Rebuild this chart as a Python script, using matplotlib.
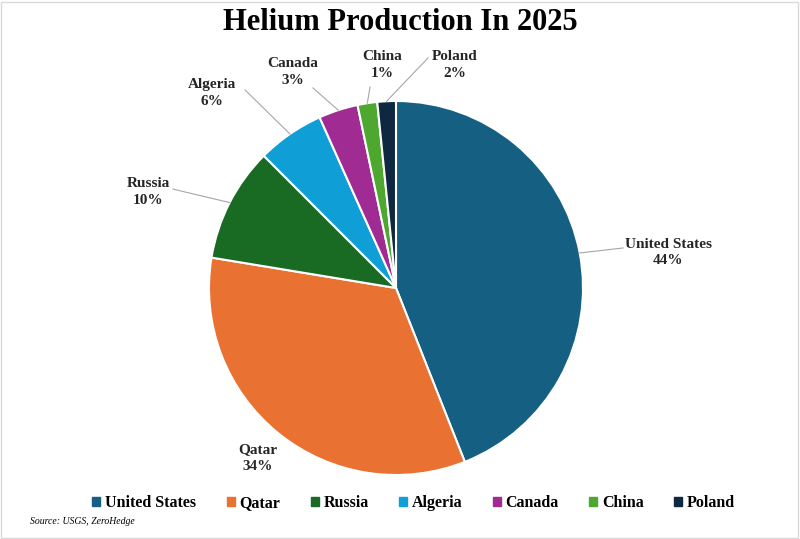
import numpy as np
import matplotlib.pyplot as plt
from matplotlib.patches import Rectangle

# ---------- data ----------
countries = ["United States", "Qatar", "Russia", "Algeria", "Canada", "China", "Poland"]
shares = [44.0, 33.6, 9.9, 5.8, 3.4, 1.7, 1.6]          # slice sizes
pct_labels = ["44%", "34%", "10%", "6%", "3%", "1%", "2%"]  # as printed on the chart
colors = ["#156082", "#E97132", "#196B24", "#0F9ED5", "#A02B93", "#4EA72E", "#0E2841"]

# label placement (in units of pie radius) and leader line end points
label_pos = [(1.455, 0.19), (-0.738, -0.909), (-1.326, 0.513), (-0.984, 1.043),
             (-0.551, 1.155), (-0.075, 1.192), (0.316, 1.192)]
line_end = [(1.214, 0.214), None, (-1.193, 0.529), (-0.807, 1.059),
            (-0.444, 1.070), (-0.139, 1.075), (0.171, 1.230)]

serif = ["Liberation Serif", "DejaVu Serif"]

fig = plt.figure(figsize=(8, 5.39), dpi=100)
ax = fig.add_axes([0, 0, 1, 1])

wedges, _ = ax.pie(shares, colors=colors, startangle=90, counterclock=False,
                   radius=1, wedgeprops=dict(edgecolor="white", linewidth=1.5))

for w, name, pct, lp, le in zip(wedges, countries, pct_labels, label_pos, line_end):
    ax.text(lp[0], lp[1], f"{name}\n{pct}", ha="center", va="center",
            fontsize=11, fontweight="bold", family=serif, color="#262626",
            linespacing=1.35)
    if le is not None:
        mid = np.deg2rad((w.theta1 + w.theta2) / 2)
        ax.plot([np.cos(mid), le[0]], [np.sin(mid), le[1]], color="#a6a6a6", lw=0.8)

# scale so that radius 1 = 187 px, centre at (396, 288) px
ax.set_xlim(-396 / 187, (800 - 396) / 187)
ax.set_ylim(-(539 - 288) / 187, 288 / 187)
ax.set_aspect("auto")
ax.axis("off")

fig.text(0.5, 1 - 23 / 539, "Helium Production In 2025", ha="center", va="center",
         fontsize=22, fontweight="bold", family=serif)

handles = [Rectangle((0, 0), 1, 1, color=c) for c in colors]
fig.legend(handles, countries, loc="center", bbox_to_anchor=(0.517, 1 - 503 / 539),
           ncol=7, frameon=False, handlelength=0.5, handleheight=0.5,
           handletextpad=0.3, columnspacing=1.9,
           prop=dict(family=serif, weight="bold", size=11.5))

fig.text(30 / 800, 1 - 522 / 539, "Source: USGS, ZeroHedge", ha="left", va="center",
         fontsize=7, style="italic", family=serif)

fig.patches.append(Rectangle((0.001, 0.002), 0.996, 0.995, transform=fig.transFigure,
                             fill=False, edgecolor="#d9d9d9", lw=1))

plt.savefig("out.png", dpi=100)
